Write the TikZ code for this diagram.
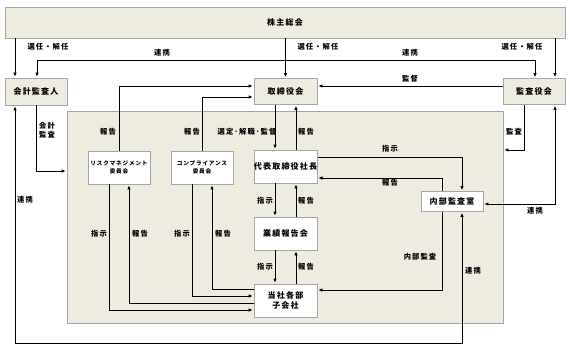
\documentclass[tikz,border=0pt]{standalone}
\usepackage{fontspec}
\setmainfont{Noto Sans CJK JP}[LetterSpace=15]
\usetikzlibrary{arrows.meta}
\definecolor{beige}{HTML}{EEECE1}
\definecolor{bordergray}{HTML}{A6A6A6}
\begin{document}
\begin{tikzpicture}[x=1pt,y=-1pt,
  box/.style={draw=bordergray,line width=0.8pt,fill=beige,inner sep=0pt,
    font=\fontsize{8}{10}\selectfont\bfseries,align=center},
  wbox/.style={box,fill=white},
  smallbox/.style={wbox,font=\fontsize{5.6}{7.5}\selectfont\bfseries},
  lab/.style={inner sep=0pt,font=\fontsize{7.3}{8.6}\selectfont\bfseries,align=center},
  conn/.style={line width=0.9pt,-{Latex[length=4pt,width=3.6pt]},shorten >=1pt},
  dconn/.style={line width=0.9pt,{Latex[length=4pt,width=3.6pt]}-{Latex[length=4pt,width=3.6pt]},shorten >=1pt,shorten <=1pt}]
\useasboundingbox (0,0) rectangle (573,353);

% big background box
\node[box,minimum width=436pt,minimum height=212pt] (bigbox) at (285,217) {};

% boxes
\node[box,minimum width=560pt,minimum height=31pt] (gm) at (285,22.5) {株主総会};
\node[box,minimum width=62pt,minimum height=27pt] (auditor) at (36,91.5) {会計監査人};
\node[box,minimum width=63pt,minimum height=26pt] (board) at (285.5,91.5) {取締役会};
\node[box,minimum width=62pt,minimum height=26pt] (kansa) at (534,91.5) {監査役会};
\node[smallbox,minimum width=62pt,minimum height=33pt] (risk) at (119,167.5) {リスクマネジメント\\委員会};
\node[smallbox,minimum width=62pt,minimum height=33pt] (comp) at (202,167.5) {コンプライアンス\\委員会};
\node[wbox,minimum width=63pt,minimum height=33pt] (ceo) at (285.5,166.5) {代表取締役社長};
\node[wbox,minimum width=62pt,minimum height=20pt] (internal) at (452,201.5) {内部監査室};
\node[wbox,minimum width=63pt,minimum height=33pt] (perf) at (285.5,233.5) {業績報告会};
\node[wbox,minimum width=63pt,minimum height=33pt] (dept) at (285.5,300.5) {当社各部\\子会社};

% helper coordinates
\coordinate (bl) at (15,343);
\coordinate (br) at (462,343);
\coordinate (tl) at (37,60);

% connectors from general meeting
\draw[conn] (gm.south -| 15,0) -- (auditor.north -| 15,0);
\draw[conn] (gm.south -| board.north) -- (board.north);
\draw[conn] (gm.south -| 555,0) -- (kansa.north -| 555,0);
\draw[dconn] (auditor.north -| tl) -- (tl) -| (kansa.north -| 535,0);
\draw[conn] (kansa.west |- 0,86) -- (board.east |- 0,86);

% committees to board
\draw[conn] (risk.north) |- (board.west |- 0,86);
\draw[conn] (comp.north) |- (board.west |- 0,97);

% board <-> ceo
\draw[conn] (board.south -| 275,0) -- (ceo.north -| 275,0);
\draw[conn] (ceo.north -| 296,0) -- (board.south -| 296,0);

% auditor to company
\draw[conn] (auditor.south) |- (bigbox.west |- 0,171);
% kansa to company
\draw[conn] (kansa.south -| 524,0) |- (bigbox.east |- 0,150);
% kansa <-> internal
\draw[dconn] (internal.east |- 0,204) -| (kansa.south -| 555,0);

% ceo <-> internal
\draw[conn] (ceo.east |- 0,157) -| (internal.north -| 462,0);
\draw[conn] (internal.north -| 442,0) |- (ceo.east |- 0,178);

% ceo <-> perf
\draw[conn] (ceo.south -| 275,0) -- (perf.north -| 275,0);
\draw[conn] (perf.north -| 296,0) -- (ceo.south -| 296,0);
% perf <-> dept
\draw[conn] (perf.south -| 275,0) -- (dept.north -| 275,0);
\draw[conn] (dept.north -| 296,0) -- (perf.south -| 296,0);

% internal audit to dept
\draw[conn] (internal.south -| 442,0) |- (dept.east |- 0,290);

% bottom loop auditor <-> internal
\draw[dconn] (auditor.south -| bl) -- (bl) -- (br) -- (internal.south -| br);

% committees <-> dept
\draw[conn] (risk.south -| 109,0) |- (dept.west |- 0,310);
\draw[conn] (dept.west |- 0,303) -| (risk.south -| 129,0);
\draw[conn] (comp.south -| 192,0) |- (dept.west |- 0,296);
\draw[conn] (dept.west |- 0,289) -| (comp.south -| 212,0);

% labels
\node[lab] (l1) at (48,47) {選任・解任};
\node[lab] (l2) at (318,47) {選任・解任};
\node[lab] (l3) at (522,47) {選任・解任};
\node[lab] (l4) at (162,53) {連携};
\node[lab] (l5) at (410,53) {連携};
\node[lab] (l6) at (410,79) {監督};
\node[lab] (l7) at (47,130) {会計\\監査};
\node[lab] (l8) at (25,200) {連携};
\node[lab] (l9) at (108,132) {報告};
\node[lab] (l10) at (192,132) {報告};
\node[lab] (l11) at (247,132) {選定･解職･監督};
\node[lab] (l12) at (306,132) {報告};
\node[lab] (l13) at (514,132) {監査};
\node[lab] (l14) at (390,149) {指示};
\node[lab] (l15) at (390,183) {報告};
\node[lab] (l16) at (535,211) {連携};
\node[lab] (l17) at (265,201) {指示};
\node[lab] (l18) at (306,201) {報告};
\node[lab] (l19) at (265,267) {指示};
\node[lab] (l20) at (306,267) {報告};
\node[lab] (l21) at (99,234) {指示};
\node[lab] (l22) at (140,234) {報告};
\node[lab] (l23) at (182,234) {指示};
\node[lab] (l24) at (223,234) {報告};
\node[lab] (l25) at (420,257) {内部監査};
\node[lab] (l26) at (473,271) {連携};
\end{tikzpicture}
\end{document}
